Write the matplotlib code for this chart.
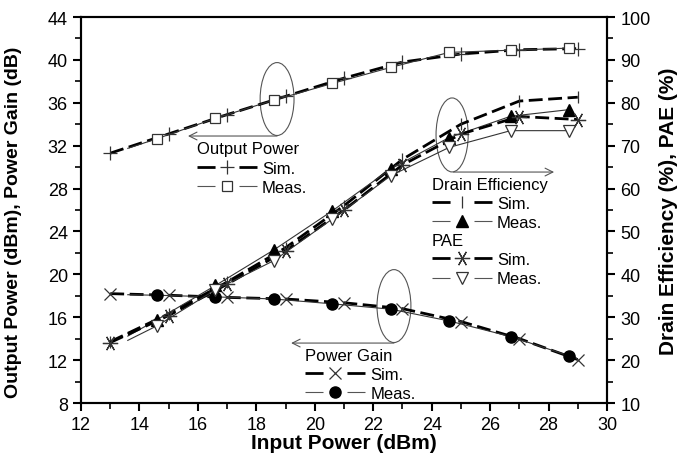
import matplotlib
matplotlib.use('Agg')
import matplotlib.pyplot as plt
from matplotlib.patches import Ellipse
from matplotlib.lines import Line2D
from matplotlib.ticker import MultipleLocator

plt.rcParams['font.family'] = ['Liberation Sans', 'DejaVu Sans']

# simulated points (every 2 dB)
pin_sim = [13, 15, 17, 19, 21, 23, 25, 27, 29]
pout_sim = [31.3, 33.1, 34.9, 36.6, 38.3, 39.8, 40.55, 40.95, 41.05]
gain_sim = [18.2, 18.05, 17.85, 17.7, 17.35, 16.8, 15.6, 14.0, 12.05]
de_sim = [24.3, 30.8, 38.2, 46.2, 56.0, 66.8, 75.0, 80.4, 81.3]
pae_sim = [24.1, 30.4, 37.7, 45.5, 55.0, 65.5, 72.7, 76.8, 76.1]

# measured points
pin_meas = [13.6, 14.6, 16.6, 18.6, 20.6, 22.6, 24.6, 26.7, 28.7]
pout_meas = [31.75, 32.65, 34.55, 36.25, 37.8, 39.3, 40.7, 40.9, 41.1]
gain_meas = [18.1, 18.05, 17.9, 17.7, 17.25, 16.75, 15.65, 14.2, 12.4]
de_meas = [25.6, 29.4, 37.4, 45.7, 54.8, 64.6, 71.9, 76.85, 78.4]
pae_meas = [24.6, 28.0, 36.4, 43.2, 52.9, 63.0, 69.6, 73.5, 73.5]

SIM = dict(color='black', lw=2.0, dashes=(5, 2))
MEAS = dict(color='#333333', lw=0.8)
MK = dict(mec='#333333', mew=0.9)
meas_every = slice(1, None)

fig = plt.figure(figsize=(6.82, 4.64), dpi=100)
ax = fig.add_axes([0.1188, 0.1293, 0.7712, 0.8319])
ax2 = ax.twinx()

# output power / gain on left axis
ax.plot(pin_sim, pout_sim, marker='+', ms=10, **MK, **SIM)
ax.plot(pin_meas, pout_meas, marker='s', ms=7, mfc='white', markevery=meas_every, **MK, **MEAS)
ax.plot(pin_sim, gain_sim, marker='x', ms=9, **MK, **SIM)
ax.plot(pin_meas, gain_meas, marker='o', ms=8, mfc='black', mec='black', markevery=meas_every, **MEAS)

# efficiencies on right axis
ax2.plot(pin_sim, de_sim, marker='|', ms=9, **MK, **SIM)
ax2.plot(pin_meas, de_meas, marker='^', ms=8, mfc='black', mec='black', markevery=meas_every, **MEAS)
ax2.plot(pin_sim, pae_sim, marker=(6, 2, 90), ms=11, **MK, **SIM)
ax2.plot(pin_meas, pae_meas, marker='v', ms=8, mfc='white', markevery=meas_every, **MK, **MEAS)

ax.set_xlim(12, 30)
ax.set_ylim(8, 44)
ax2.set_ylim(10, 100)
ax.xaxis.set_major_locator(MultipleLocator(2))
ax.xaxis.set_minor_locator(MultipleLocator(1))
ax.yaxis.set_major_locator(MultipleLocator(4))
ax.yaxis.set_minor_locator(MultipleLocator(2))
ax2.yaxis.set_major_locator(MultipleLocator(10))
ax2.yaxis.set_minor_locator(MultipleLocator(5))

for a in (ax, ax2):
    for s in a.spines.values():
        s.set_linewidth(1.5)
    a.tick_params(which='major', direction='out', length=6, width=1.5, labelsize=13)
    a.tick_params(which='minor', direction='out', length=4, width=1.2)
ax.tick_params(top=False, right=False, which='both')
ax.tick_params(axis='x', pad=3)

ax.set_xlabel('Input Power (dBm)', fontsize=15, fontweight='bold', labelpad=0)
ax.set_ylabel('Output Power (dBm), Power Gain (dB)', fontsize=14, fontweight='bold')
ax.yaxis.set_label_coords(-0.112, 0.47)
ax2.set_ylabel('Drain Efficiency (%), PAE (%)', fontsize=15, fontweight='bold', labelpad=6)

# ellipses and arrows
ann = dict(fill=False, ec='#555555', lw=0.8)
arr = dict(arrowstyle='->', color='#555555', lw=0.8, mutation_scale=14, shrinkA=0, shrinkB=0)
ax.add_patch(Ellipse((18.71, 36.35), 1.16, 6.8, **ann))
ax.annotate('', xy=(15.66, 32.9), xytext=(18.71, 32.9), arrowprops=arr)
ax.add_patch(Ellipse((24.70, 33.0), 1.10, 6.9, **ann))
ax.annotate('', xy=(28.19, 29.54), xytext=(24.75, 29.54), arrowprops=arr)
ax.add_patch(Ellipse((22.71, 17.04), 1.16, 6.8, **ann))
ax.annotate('', xy=(19.19, 13.59), xytext=(22.71, 13.59), arrowprops=arr)

# legends
def handle(style, **kw):
    return Line2D([], [], **style, **kw)

sim_leg = dict(color='black', lw=2.0, dashes=(6.5, 8.6))
meas_leg = dict(color='#555555', lw=0.8, dashes=(16.2, 21.6))
leg_kw = dict(frameon=False, loc='upper left', fontsize=12, title_fontsize=12,
              alignment='left', handlelength=3.6, handletextpad=0.3,
              labelspacing=0.25, borderpad=0, borderaxespad=0)

l1 = ax.legend([handle(sim_leg, marker='+', ms=10, **MK),
                handle(meas_leg, marker='s', ms=7, mfc='white', **MK)],
               ['Sim.', 'Meas.'], title='Output Power',
               bbox_to_anchor=(15.97, 32.4), bbox_transform=ax.transData, **leg_kw)
ax.add_artist(l1)
l2 = ax.legend([handle(sim_leg, marker='x', ms=9, **MK),
                handle(meas_leg, marker='o', ms=8, mfc='black', mec='black')],
               ['Sim.', 'Meas.'], title='Power Gain',
               bbox_to_anchor=(19.67, 13.17), bbox_transform=ax.transData, **leg_kw)
ax.add_artist(l2)
l3 = ax.legend([handle(sim_leg, marker='|', ms=9, **MK),
                handle(meas_leg, marker='^', ms=8, mfc='black', mec='black')],
               ['Sim.', 'Meas.'], title='Drain Efficiency',
               bbox_to_anchor=(24.01, 29.1), bbox_transform=ax.transData, **leg_kw)
ax.add_artist(l3)
l4 = ax.legend([handle(sim_leg, marker=(6, 2, 90), ms=11, **MK),
                handle(meas_leg, marker='v', ms=8, mfc='white', **MK)],
               ['Sim.', 'Meas.'], title='PAE',
               bbox_to_anchor=(24.01, 23.85), bbox_transform=ax.transData, **leg_kw)

fig.savefig('out.png', dpi=100)
